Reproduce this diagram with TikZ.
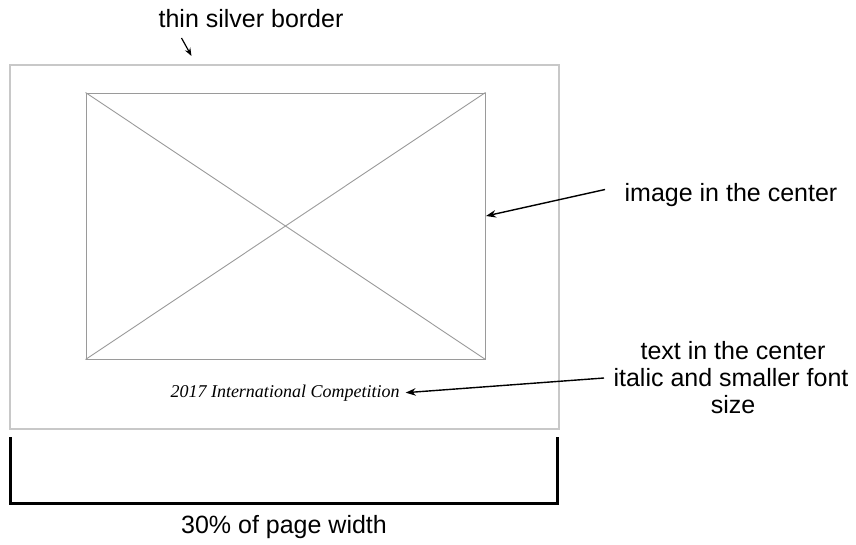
\documentclass[tikz,border=0pt]{standalone}
\usepackage{fontspec}
\setmainfont{Liberation Sans}
\newfontfamily\capfont{Liberation Serif}
\usetikzlibrary{arrows.meta}
\definecolor{silverline}{HTML}{C8C8C8}
\definecolor{placeholder}{HTML}{9A9A9A}
\tikzset{
  note/.style={inner sep=0pt, font=\fontsize{25}{28}\selectfont},
  pointer/.style={line width=1.4pt, -{Stealth[length=10pt,width=7.5pt]}},
  framebox/.style={draw=silverline, line width=1.1pt, inner sep=0pt},
  imagebox/.style={draw=placeholder, line width=1pt, inner sep=0pt},
}
\begin{document}
\begin{tikzpicture}[x=1pt,y=-1pt]
\useasboundingbox (0,0) rectangle (856,544);

% outer frame and image placeholder
\node[framebox, minimum width=549pt, minimum height=364pt] (frame) at (284.5,247) {};
\node[imagebox, minimum width=399pt, minimum height=266pt] (img) at (285.5,226) {};
\draw[placeholder, line width=0.9pt] (img.north west) -- (img.south east);
\draw[placeholder, line width=0.9pt] (img.south west) -- (img.north east);

% caption inside the frame
\node[inner sep=0pt, anchor=base, font=\capfont\itshape\fontsize{18}{20}\selectfont] (cap) at (285,397) {2017 International Competition};

% annotations
\node[note, anchor=base] (lborder) at (251,27) {thin silver border};
\node[note, anchor=base] (limage) at (731,201) {image in the center};
\node[note, anchor=base] (ltext1) at (733,359) {text in the center};
\node[note, anchor=base] (ltext2) at (731,386) {italic and smaller font};
\node[note, anchor=base] (ltext3) at (733,413) {size};
\node[note, anchor=base] (lwidth) at (284,533) {30\% of page width};

\coordinate (bordertail) at (181.5,38);
\coordinate (bordertip) at (191.5,56);
\coordinate (imagetail) at (605,189.5);
\coordinate (imagetip) at (486,216);
\coordinate (texttail) at (604,378);

\draw[pointer, line width=1.2pt, -{Stealth[length=8pt,width=6pt]}] (bordertail) -- (bordertip);
\draw[pointer] (imagetail) -- (imagetip);
\draw[pointer] (texttail) -- ([xshift=6pt]cap.east);

% width bracket under the frame
\coordinate (bl) at (10.5,437);
\coordinate (br) at (557,437);
\draw[line width=3pt] (bl) -- (bl |- 0,503) -- (br |- 0,503) -- (br);
\end{tikzpicture}
\end{document}
